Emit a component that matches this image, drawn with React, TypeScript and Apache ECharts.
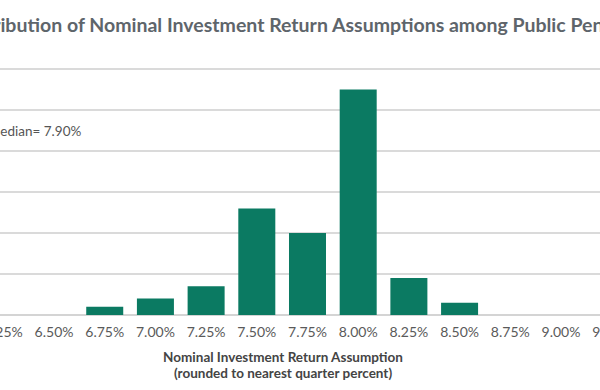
import React, { useEffect, useRef } from "react";
import * as echarts from "echarts";

const categories = ["6.25%", "6.50%", "6.75%", "7.00%", "7.25%", "7.50%", "7.75%", "8.00%", "8.25%", "8.50%", "8.75%", "9.00%", "9.25%"];
const planCounts = [0, 0, 2, 4, 7, 26, 20, 55, 9, 3, 0, 0, 0];
const yTicks = { min: 0, max: 60, interval: 10 };
const titleText = "Distribution of Nominal Investment Return Assumptions among Public Pension Plans";
const medianText = "Median= 7.90%";
const axisNameLines = ["Nominal Investment Return Assumption", "(rounded to nearest quarter percent)"];

const OFFSET = 80;
const CHART_W = 760;

export default function App() {
  const ref = useRef<HTMLDivElement>(null);
  useEffect(() => {
    if (!ref.current) return;
    const chart = echarts.init(ref.current, null, { renderer: "svg" });
    chart.setOption({
      animation: false,
      backgroundColor: "#ffffff",
      textStyle: { fontFamily: "Lato" },
      graphic: [
        {
          type: "text",
          x: OFFSET + 324,
          y: 24,
          style: { text: titleText, fill: "#5e656b", font: "bold 19.5px Lato", textAlign: "center", textVerticalAlign: "middle" },
        },
        {
          type: "text",
          x: OFFSET - 12,
          y: 131,
          style: { text: medianText, fill: "#555555", font: "13.5px Lato", textAlign: "left", textVerticalAlign: "middle" },
        },
        {
          type: "text",
          x: OFFSET + 283,
          y: 357,
          style: { text: axisNameLines[0], fill: "#444444", font: "bold 13.5px Lato", textAlign: "center", textVerticalAlign: "middle" },
        },
        {
          type: "text",
          x: OFFSET + 283,
          y: 373,
          style: { text: axisNameLines[1], fill: "#444444", font: "bold 13.5px Lato", textAlign: "center", textVerticalAlign: "middle" },
        },
      ],
      grid: { left: 58, right: 43, top: 69, bottom: 75 },
      xAxis: {
        type: "category",
        data: categories,
        axisLine: { lineStyle: { color: "#d4d4d4", width: 2 } },
        axisTick: { inside: true, length: 9, lineStyle: { color: "#c6c6c6", width: 1.5 } },
        axisLabel: { color: "#5a5a5a", fontSize: 14, margin: 9, fontFamily: "Lato" },
      },
      yAxis: {
        type: "value",
        min: yTicks.min,
        max: yTicks.max,
        interval: yTicks.interval,
        axisLabel: { show: false },
        axisLine: { show: false },
        axisTick: { show: false },
        splitLine: { lineStyle: { color: "#dadada", width: 2 } },
      },
      series: [
        {
          type: "bar",
          data: planCounts,
          barCategoryGap: "27%",
          itemStyle: { color: "#0b7a62" },
        },
      ],
    });
    return () => chart.dispose();
  }, []);
  return (
    <div style={{ position: "fixed", left: 0, top: 0, width: 600, height: 390, overflow: "hidden", background: "#fff" }}>
      <div ref={ref} style={{ position: "absolute", left: -OFFSET, top: 0, width: CHART_W, height: 390 }} />
    </div>
  );
}
